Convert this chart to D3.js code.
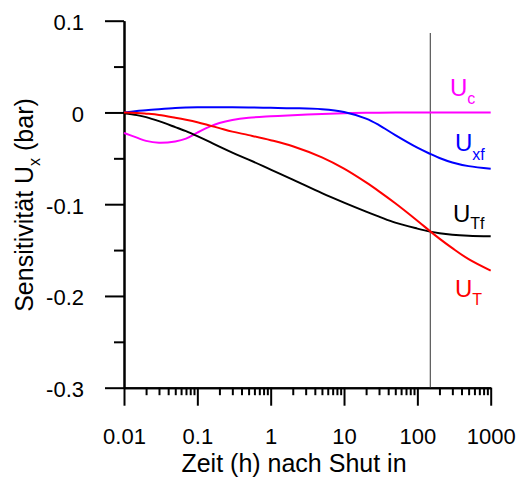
<!DOCTYPE html>
<html>
<head>
<meta charset="utf-8">
<script src="https://cdn.jsdelivr.net/npm/d3@7"></script>
<style>
  body { margin: 0; background: #fff; }
  svg { display: block; font-family: Arial, "Liberation Sans", sans-serif; }
  .axis path, .axis line { stroke: #000; stroke-width: 2; }
  .axis text { font-size: 22px; fill: #000; }
</style>
</head>
<body>
<div class="content"></div>
<script>
(function() {

  // Data
  var times = [0.01, 0.015, 0.02, 0.03, 0.05, 0.07, 0.1, 0.15, 0.2, 0.3, 0.5, 1,
               2, 5, 10, 20, 30, 50, 100, 150, 200, 300, 500, 1000];
  var uc  = [-0.0224, -0.0275, -0.0310, -0.0330, -0.0316, -0.0286, -0.0220, -0.0152, -0.0115, -0.0082, -0.0058, -0.0042,
             -0.0030, -0.0016, -0.0008, -0.0004, -0.0002, -0.0001, 0, 0, 0, 0, 0, 0];
  var uxf = [0.0000, 0.0015, 0.0025, 0.0036, 0.0048, 0.0053, 0.0056, 0.0057, 0.0057, 0.0056, 0.0054, 0.0050,
             0.0046, 0.0035, 0.0005, -0.0068, -0.0138, -0.0247, -0.0384, -0.0452, -0.0496, -0.0545, -0.0585, -0.0613];
  var utf = [-0.0008, -0.0029, -0.0051, -0.0095, -0.0160, -0.0204, -0.0258, -0.0324, -0.0373, -0.0438, -0.0514, -0.0623,
             -0.0732, -0.0880, -0.0983, -0.1081, -0.1135, -0.1201, -0.1266, -0.1299, -0.1316, -0.1332, -0.1343, -0.1350];
  var ut  = [0.0000, -0.0005, -0.0013, -0.0027, -0.0057, -0.0079, -0.0106, -0.0144, -0.0171, -0.0209, -0.0247, -0.0302,
             -0.0368, -0.0490, -0.0613, -0.0763, -0.0860, -0.0990, -0.1180, -0.1296, -0.1375, -0.1479, -0.1599, -0.1724];
  var seriesNames = ["c", "xf", "Tf", "T"];
  var markerTime = 150;

  var xTicks = [0.01, 0.1, 1, 10, 100, 1000];
  var xTickLabels = ["0.01", "0.1", "1", "10", "100", "1000"];
  var yTicks = [-0.3, -0.2, -0.1, 0, 0.1];
  var yTickLabels = ["-0.3", "-0.2", "-0.1", "0", "0.1"];
  var yMinor = [-0.25, -0.15, -0.05, 0.05];

  // Design Variables
  var width = 525, height = 479;
  var left = 124, right = 490.7, top = 20.7, bottom = 387.7;
  var colors = { "c": "#ff00ff", "xf": "#0000ff", "Tf": "#000000", "T": "#ff0000" };
  var labelPos = {
    "c":  { x: 450, y: 96,  dy: 7.5 },
    "xf": { x: 455, y: 151, dy: 8.5 },
    "Tf": { x: 453, y: 222, dy: 7 },
    "T":  { x: 455, y: 297, dy: 7.5 }
  };

  // Scales
  var x = d3.scaleLog().domain([0.01, 1000]).range([left, right]);
  var y = d3.scaleLinear().domain([-0.3, 0.1]).range([bottom, top]);

  var svg = d3.select(".content").append("svg")
      .attr("width", width)
      .attr("height", height);

  // minor x ticks
  var xMinor = [];
  xTicks.slice(0, -1).forEach(function(d) {
    for (var k = 2; k <= 9; k++) xMinor.push(d * k);
  });

  svg.append("g")
      .attr("class", "axis")
      .attr("transform", "translate(0," + bottom + ")")
      .call(d3.axisBottom(x).tickValues(xMinor).tickSize(7.5).tickSizeOuter(0).tickFormat(""));

  svg.append("g")
      .attr("class", "axis")
      .attr("transform", "translate(0," + bottom + ")")
      .call(d3.axisBottom(x).tickValues(xTicks).tickSize(18).tickSizeOuter(0).tickPadding(23)
        .tickFormat(function(d, i) { return xTickLabels[i]; }));

  svg.append("g")
      .attr("class", "axis")
      .attr("transform", "translate(" + left + ",0)")
      .call(d3.axisLeft(y).tickValues(yMinor).tickSize(10).tickSizeOuter(0).tickFormat(""));

  svg.append("g")
      .attr("class", "axis")
      .attr("transform", "translate(" + left + ",0)")
      .call(d3.axisLeft(y).tickValues(yTicks).tickSize(19).tickSizeOuter(0).tickPadding(21)
        .tickFormat(function(d, i) { return yTickLabels[i]; }))
      .selectAll("text").attr("dy", "0.4em");

  // shut-in marker
  svg.append("line")
      .attr("x1", x(markerTime)).attr("x2", x(markerTime))
      .attr("y1", 33).attr("y2", bottom)
      .attr("stroke", "#333")
      .attr("stroke-width", 1);

  // curves
  var line = d3.line()
      .x(function(d) { return x(d[0]); })
      .y(function(d) { return y(d[1]); })
      .curve(d3.curveCatmullRom.alpha(0.5));

  var seriesValues = [uc, uxf, utf, ut];
  seriesNames.forEach(function(name, i) {
    var pts = times.map(function(t, j) { return [t, seriesValues[i][j]]; });
    svg.append("path")
        .datum(pts)
        .attr("d", line)
        .attr("fill", "none")
        .attr("stroke", colors[name])
        .attr("stroke-width", 2);

    var p = labelPos[name];
    var label = svg.append("text")
        .attr("x", p.x)
        .attr("y", p.y)
        .attr("fill", colors[name])
        .style("font-size", "24px");
    label.append("tspan").text("U");
    label.append("tspan")
        .attr("dy", p.dy)
        .style("font-size", "16px")
        .text(name);
  });

  // axis titles
  svg.append("text")
      .attr("x", 294)
      .attr("y", 472)
      .attr("text-anchor", "middle")
      .style("font-size", "25px")
      .text("Zeit (h) nach Shut in");

  var yTitle = svg.append("text")
      .attr("transform", "translate(33,205) rotate(-90)")
      .attr("text-anchor", "middle")
      .style("font-size", "25px");
  yTitle.append("tspan").text("Sensitivität U");
  yTitle.append("tspan").attr("dy", 7).style("font-size", "16px").text("x");
  yTitle.append("tspan").attr("dy", -7).text(" (bar)");

})();
</script>
</body>
</html>
